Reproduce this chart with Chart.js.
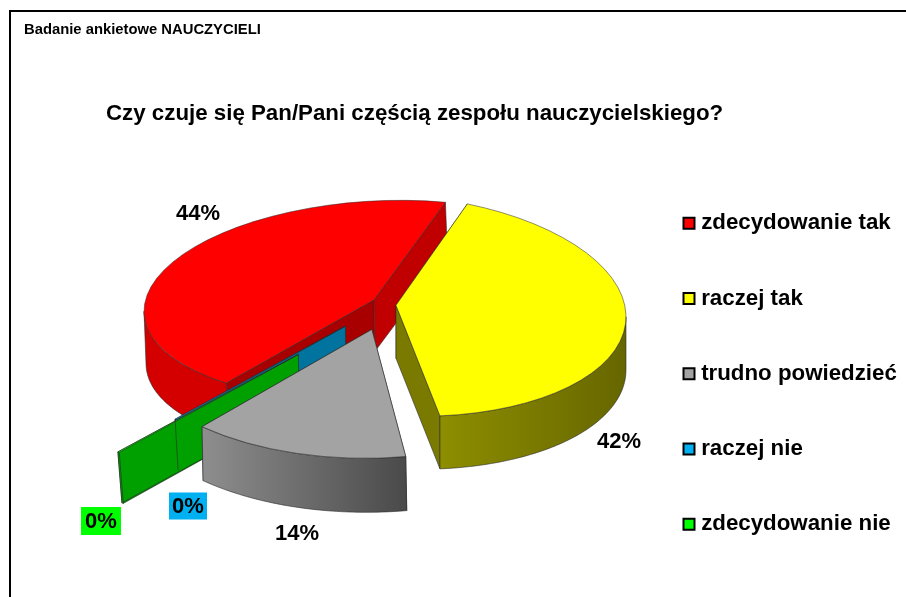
<!DOCTYPE html>
<html><head><meta charset="utf-8">
<style>
html,body{margin:0;padding:0;background:#fff;overflow:hidden}
#frame{position:absolute;left:9px;top:10px;width:897px;height:587px;border-left:2px solid #000;border-top:2px solid #000;box-sizing:border-box}
canvas{position:absolute;left:0;top:0}
</style>
<script src="https://cdn.jsdelivr.net/npm/chart.js@4"></script>
</head><body>
<div id="frame"></div>
<canvas id="c" width="906" height="597"></canvas>
<script>
// ---- data ----
const categories = ['zdecydowanie tak','raczej tak','trudno powiedzieć','raczej nie','zdecydowanie nie'];
const values = [44, 42, 14, 0.1, 0.1];
const headerText = 'Badanie ankietowe NAUCZYCIELI';
const questionText = 'Czy czuje się Pan/Pani częścią zespołu nauczycielskiego?';
// ---- style ----
const topColors = ['#FF0000','#FFFF00','#A3A3A3','#00B0F0','#00FF00'];
const rimColors = [['#D40000','#D40000'],['#8E8E00','#666600'],['#8E8E8E','#4A4A4A'],['#00749E','#00749E'],['#00A000','#00A000']];
const startWall = ['#A80000','#7A7A00','#6A6A6A','#00749E','#00A000'];
const endWall = ['#C00000','#7A7A00','#6A6A6A','#00749E','#00A000'];
// ---- 3D look: explosion distance, per-slice view matrix [a,b,c,d], extrusion ----
const rotationDeg = 220, radiusPx = 230, groundSquash = 0.47;
const pieCenter = {x:386, y:303};
const explode = [13.7, 10, 58, 64, 137];
const nudge = [[0,0],[0,2],[0,0],[0,0],[0,2]];
const view = [[1,-0.05,0,0.43],[1,0.05,0,0.48],[1.09,0.017,-0.062,0.56],[1.16,0,0,0.525],[1.22,0,0,0.553]];
const depth = [52,53,54,51,51];
const lean = [2,0,1,3,4];
const drawOrder = [0,1,3,4,2];
const valueLabelPos = [[198,213],[619,441],[297,533],[188,506],[101,521]];
const valueLabelBg = [null,null,null,'#00B0F0','#00FF00'];
const valueLabelBox = [null,null,null,[38,27],[40,28]];
const font = '"Liberation Sans", Arial, sans-serif';

function apexOf(el,i){
  const mid=(el.startAngle+el.endAngle)/2;
  return {x:el.x+explode[i]*Math.cos(mid)+nudge[i][0], y:el.y+groundSquash*explode[i]*Math.sin(mid)+nudge[i][1]};
}
function rimPoint(el,i,ang,low){
  const A=apexOf(el,i), m=view[i], r=el.outerRadius, lx=r*Math.cos(ang), ly=r*Math.sin(ang);
  return [A.x+m[0]*lx+m[2]*ly+(low?lean[i]:0), A.y+m[1]*lx+m[3]*ly+(low?depth[i]:0)];
}
function poly(ctx,pts,fill){
  ctx.beginPath();pts.forEach((p,k)=>k?ctx.lineTo(p[0],p[1]):ctx.moveTo(p[0],p[1]));ctx.closePath();
  ctx.fillStyle=fill;ctx.fill();ctx.lineWidth=0.6;ctx.strokeStyle='#2a2a2a';ctx.stroke();
}
function drawWalls(ctx,el,i){
  const A=apexOf(el,i), s=el.startAngle, e=el.endAngle;
  const side=(ang,c)=>{const p=rimPoint(el,i,ang,false),q=rimPoint(el,i,ang,true);poly(ctx,[[A.x,A.y],p,q,[A.x+lean[i]*0.3,A.y+depth[i]]],c);};
  side(s,startWall[i]);
  side(e,endWall[i]);
  // only the part of the rim that faces the viewer
  [0,2*Math.PI].forEach(base=>{
    const lo=Math.max(s,base), hi=Math.min(e,base+Math.PI);
    if(hi<=lo) return;
    const top=[],bot=[],n=Math.max(2,Math.ceil((hi-lo)*60));
    for(let k=0;k<=n;k++){const a=lo+(hi-lo)*k/n;top.push(rimPoint(el,i,a,false));bot.unshift(rimPoint(el,i,a,true));}
    const xs=top.map(p=>p[0]);
    const g=ctx.createLinearGradient(Math.min(...xs),0,Math.max(...xs),0);
    g.addColorStop(0,rimColors[i][0]);g.addColorStop(1,rimColors[i][1]);
    poly(ctx,top.concat(bot),g);
  });
}
const pie3d={
  id:'pie3d',
  afterLayout(chart){
    chart.chartArea={left:pieCenter.x-radiusPx,right:pieCenter.x+radiusPx,top:pieCenter.y-radiusPx,bottom:pieCenter.y+radiusPx,
      width:2*radiusPx,height:2*radiusPx};
    chart.boxes.forEach(b=>{
      if(b.options&&b.options.text===questionText){b.left=106;b.right=800;b.top=114-b.height/2;b.bottom=b.top+b.height;}
      if(b.options&&b.options.text===headerText){b.left=24;b.right=400;b.top=29.5-b.height/2;b.bottom=b.top+b.height;}
    });
    const L=chart.legend, pad=L.options.labels.padding;
    L.left=688-pad;L.right=L.left+L.width;L.top=212-pad;L.bottom=L.top+L.height;
  },
  beforeDatasetsDraw(chart){
    const ctx=chart.ctx, arcs=chart.getDatasetMeta(0).data;
    drawOrder.forEach(i=>{
      const el=arcs[i];
      drawWalls(ctx,el,i);
      const A=apexOf(el,i), m=view[i];
      ctx.save();
      ctx.transform(m[0],m[1],m[2],m[3],A.x-m[0]*el.x-m[2]*el.y,A.y-m[1]*el.x-m[3]*el.y);
      el.draw(ctx);
      ctx.restore();
    });
    // edge of the hidden blue wall showing through the green one
    const b=arcs[3], p=rimPoint(b,3,b.endAngle,false), q=rimPoint(b,3,b.endAngle,true);
    ctx.beginPath();ctx.moveTo(p[0],p[1]);ctx.lineTo(q[0],q[1]);ctx.lineWidth=0.6;ctx.strokeStyle='#2a2a2a';ctx.stroke();
    return false;
  },
  afterDraw(chart){
    const ctx=chart.ctx;
    ctx.save();
    ctx.font='bold 22px '+font;ctx.textAlign='center';ctx.textBaseline='middle';
    values.forEach((v,i)=>{
      const [x,y]=valueLabelPos[i];
      if(valueLabelBg[i]){const [w,h]=valueLabelBox[i];ctx.fillStyle=valueLabelBg[i];ctx.fillRect(x-w/2,y-h/2,w,h);}
      ctx.fillStyle='#000';ctx.fillText(Math.round(v)+'%',x,y+1);
    });
    ctx.restore();
  }
};
new Chart(document.getElementById('c'),{
  type:'pie',
  data:{labels:categories,datasets:[{data:values,backgroundColor:topColors,borderColor:'#2a2a2a',borderWidth:0.7,
    radius:radiusPx,rotation:rotationDeg,clip:false}]},
  plugins:[pie3d],
  options:{
    responsive:false,animation:false,
    plugins:{
      tooltip:{enabled:false},
      title:{display:true,text:questionText,align:'start',color:'#000',padding:0,font:{family:font,size:22.3,weight:'bold',lineHeight:1.2}},
      subtitle:{display:true,text:headerText,align:'start',color:'#000',padding:0,font:{family:font,size:14.8,weight:'bold',lineHeight:1.2}},
      legend:{display:true,position:'right',align:'start',
        labels:{color:'#000',padding:53,boxWidth:2,boxHeight:11,usePointStyle:true,pointStyle:'rect',
          font:{family:font,size:22.3,weight:'bold'},
          generateLabels(chart){
            return Chart.overrides.pie.plugins.legend.labels.generateLabels(chart).map(l=>Object.assign(l,{strokeStyle:'#000',lineWidth:2,pointStyle:'rect'}));
          }}}
    }
  }
});
</script>
</body></html>
